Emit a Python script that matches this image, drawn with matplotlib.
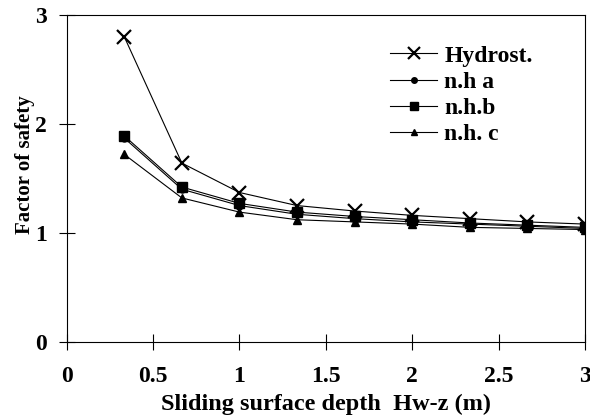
import matplotlib
matplotlib.use("Agg")
import matplotlib.pyplot as plt

plt.rcParams['font.family'] = ['Liberation Serif', 'DejaVu Serif']
plt.rcParams['font.weight'] = 'bold'

# depth of the sliding surface (m)
depth = [1/3, 2/3, 1.0, 4/3, 5/3, 2.0, 7/3, 8/3, 3.0]

# factor of safety for each water pressure case
fs_hydrost = [2.80, 1.64, 1.37, 1.25, 1.20, 1.16, 1.13, 1.10, 1.08]
fs_nh_a = [1.87, 1.40, 1.25, 1.17, 1.13, 1.10, 1.08, 1.06, 1.04]
fs_nh_b = [1.89, 1.42, 1.27, 1.19, 1.15, 1.12, 1.09, 1.07, 1.05]
fs_nh_c = [1.72, 1.32, 1.19, 1.12, 1.10, 1.08, 1.05, 1.04, 1.03]

W, H = 590, 418
fig = plt.figure(figsize=(W / 100, H / 100), dpi=100)
ax = fig.add_axes([66.7 / W, 1 - 341.7 / H, (585 - 66.7) / W, (341.7 - 15) / H])

ax.plot(depth, fs_hydrost, '-x', color='black', lw=0.8, ms=10.5, mew=1.6, label='Hydrost.')
ax.plot(depth, fs_nh_a, '-o', color='black', lw=0.8, ms=5, label='n.h a')
ax.plot(depth, fs_nh_b, '-s', color='black', lw=0.8, ms=6.5, label='n.h.b')
ax.plot(depth, fs_nh_c, '-^', color='black', lw=0.8, ms=5.5, label='n.h. c')

ax.set_xlim(0, 3)
ax.set_ylim(0, 3)
ax.set_xticks([0, 0.5, 1, 1.5, 2, 2.5, 3])
ax.set_xticklabels(['0', '0.5', '1', '1.5', '2', '2.5', '3'])
ax.set_yticks([0, 1, 2, 3])
ax.tick_params(direction='inout', length=11, width=0.8, labelsize=17)
ax.tick_params(axis='x', pad=12)
ax.tick_params(axis='y', pad=9)
for sp in ax.spines.values():
    sp.set_linewidth(0.8)

ax.set_xlabel('Sliding surface depth  Hw-z (m)', fontsize=17.5, fontweight='bold')
ax.set_ylabel('Factor of safety', fontsize=15, fontweight='bold')
ax.xaxis.set_label_coords(0.5, -(404 - 341.7) / (341.7 - 15))
ax.yaxis.set_label_coords(-(66.7 - 25) / (585 - 66.7), (341.7 - 165) / (341.7 - 15))
ax.xaxis.label.set_va('center')
ax.yaxis.label.set_va('center')

ax.legend(loc='upper left', bbox_to_anchor=(390 / W, 1 - 45 / H), bbox_transform=fig.transFigure,
          frameon=False, fontsize=17, handlelength=2.0, handletextpad=0.3, labelspacing=0.2,
          borderpad=0, borderaxespad=0, markerscale=0.8)

fig.savefig('out.png', dpi=100)
